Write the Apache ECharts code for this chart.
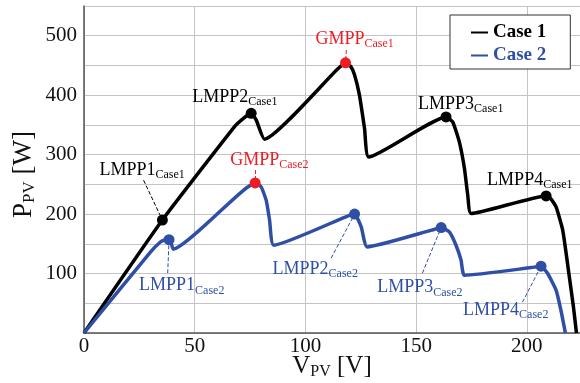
<!DOCTYPE html>
<html>
<head>
<meta charset="utf-8">
<script src="https://cdn.jsdelivr.net/npm/echarts@6/dist/echarts.min.js"></script>
<style>
html, body { margin: 0; background: #fff; }
#chart { width: 580px; height: 383px; }
</style>
</head>
<body>
<div id="chart"></div>
<script>
// P-V curves, voltage [V] and power [W]
var case1V = [0, 35.4, 68, 72, 75.5, 77.8, 81.5, 114, 118.1, 120.5, 122.2, 124.4, 126.7, 128.6, 163.5, 166.5, 169.5, 171.8, 173.3, 174.8, 208.7, 211, 213.2, 216.2, 219.2, 221, 222.4];
var case1P = [0, 190, 347, 361, 369.5, 358, 326, 442, 454.5, 448, 434, 400, 344, 296, 363.5, 355, 321.5, 277, 232, 201, 230.6, 225, 212, 173, 94, 45, 0];
var case2V = [0, 30, 34.5, 36.5, 38.4, 39.3, 40.3, 68, 73, 77.3, 80, 82.3, 83.8, 85.7, 118, 122.2, 125.2, 127.9, 157, 161.3, 165, 168, 170.3, 171.8, 202, 206.4, 209.4, 213.2, 215.4, 217.4];
var case2P = [0, 136, 153, 156.5, 157, 152, 141, 227, 243, 252.5, 245.8, 223, 190, 147.6, 195, 200, 178.5, 144.8, 173, 177.4, 170, 147.6, 122.4, 97, 110, 112.3, 100, 72, 38, 0];

// maximum power points
var mppName = ['LMPP1', 'LMPP2', 'GMPP', 'LMPP3', 'LMPP4', 'LMPP1', 'GMPP', 'LMPP2', 'LMPP3', 'LMPP4'];
var mppCase = ['Case1', 'Case1', 'Case1', 'Case1', 'Case1', 'Case2', 'Case2', 'Case2', 'Case2', 'Case2'];
var mppV = [35.4, 75.5, 118.1, 163.5, 208.7, 38.4, 77.3, 122.2, 161.3, 206.4];
var mppP = [190, 369.5, 454.5, 363.5, 230.6, 157, 252.5, 200, 177.4, 112.3];

var xTicks = [0, 50, 100, 150, 200];
var yTicks = [100, 200, 300, 400, 500];

// label placement (pixel offset from the point) and leader line start (in data units)
var labelOffset = [[-63, -49], [-59, -15], [-30, -23], [-28, -12], [-59, -15], [-30, 47], [-25, -22], [-82, 56], [-64, 61], [-78, 45]];
var leaderFrom = [[26.9, 257], null, [118.5, 476], null, null, [37.8, 100.5], [77.3, 274], [111.6, 125.8], [152.8, 100.5], [198, 51.7]];

var BLUE = '#2f4fa6';
var RED = '#ee1c25';
var FONT = 'Liberation Serif';

function zip(a, b) {
  return a.map(function (v, i) { return [v, b[i]]; });
}

var mppData = [];
var leaders = [];
for (var i = 0; i < mppV.length; i++) {
  var col = mppName[i] === 'GMPP' ? RED : (mppCase[i] === 'Case1' ? '#000' : BLUE);
  mppData.push({
    value: [mppV[i], mppP[i]],
    itemStyle: { color: col, opacity: 1 },
    label: {
      show: true,
      position: 'inside',
      align: 'left',
      verticalAlign: 'middle',
      offset: labelOffset[i],
      color: col,
      formatter: '{m|' + mppName[i] + '}{s|' + mppCase[i] + '}'
    }
  });
  if (leaderFrom[i]) {
    leaders.push([
      { coord: leaderFrom[i], lineStyle: { color: col, type: [4, 2], width: 1, opacity: 1 } },
      { coord: [mppV[i], mppP[i]] }
    ]);
  }
}

var chart = echarts.init(document.getElementById('chart'));
chart.setOption({
  animation: false,
  textStyle: { fontFamily: FONT },
  grid: { left: 84, right: 0, top: 6, bottom: 50, outerBoundsMode: 'none' },
  legend: {
    left: 450, top: 15, orient: 'vertical',
    padding: [8, 24, 4, 21], itemGap: 4, itemWidth: 17, itemHeight: 2,
    borderColor: '#333', borderWidth: 1, backgroundColor: '#fff',
    icon: 'rect',
    textStyle: { fontFamily: FONT, fontSize: 19, fontWeight: 'bold' },
    data: [
      { name: 'Case 1', textStyle: { color: '#000' } },
      { name: 'Case 2', textStyle: { color: BLUE } }
    ]
  },
  xAxis: {
    type: 'value', min: 0, max: 224, interval: 50,
    name: '{m|V}{s|PV}{m| [V]}', nameLocation: 'middle', nameGap: 21, nameMoveOverlap: false,
    nameTextStyle: {
      color: '#111',
      rich: {
        m: { fontFamily: FONT, fontSize: 25, verticalAlign: 'bottom', padding: [0, 0, 1, 0] },
        s: { fontFamily: FONT, fontSize: 16, verticalAlign: 'bottom' }
      }
    },
    axisLine: { lineStyle: { color: '#555', width: 1.5 } },
    axisTick: { show: false },
    axisLabel: {
      fontFamily: FONT, fontSize: 21, color: '#111', margin: 3, showMaxLabel: false,
      formatter: function (v) { return xTicks.indexOf(v) >= 0 ? String(v) : ''; }
    },
    splitLine: { lineStyle: { color: '#c4c4c4', width: 1 } }
  },
  yAxis: {
    type: 'value', min: 0, max: 550, interval: 50,
    name: '{m|P}{s|PV}{e| [W]}', nameLocation: 'middle', nameGap: 46, nameRotate: 90, nameMoveOverlap: false,
    nameTextStyle: {
      color: '#111',
      rich: {
        m: { fontFamily: FONT, fontSize: 27, verticalAlign: 'bottom', padding: [0, 0, 1, 0] },
        e: { fontFamily: FONT, fontSize: 27, verticalAlign: 'bottom', padding: [0, 10, 1, 0] },
        s: { fontFamily: FONT, fontSize: 17, verticalAlign: 'bottom' }
      }
    },
    axisLine: { show: true, lineStyle: { color: '#555', width: 1.5 } },
    axisTick: { show: false },
    axisLabel: {
      fontFamily: FONT, fontSize: 21, color: '#111', margin: 7,
      formatter: function (v) { return yTicks.indexOf(v) >= 0 ? String(v) : ''; }
    },
    splitLine: { lineStyle: { color: '#c4c4c4', width: 1 } }
  },
  series: [
    {
      name: 'Case 1', type: 'line', data: zip(case1V, case1P),
      showSymbol: false, itemStyle: { color: '#000' }, smooth: 0.15,
      lineStyle: { color: '#000', width: 3.5, join: 'round' }, z: 3
    },
    {
      name: 'Case 2', type: 'line', data: zip(case2V, case2P),
      showSymbol: false, itemStyle: { color: BLUE }, smooth: 0.15,
      lineStyle: { color: BLUE, width: 3.5, join: 'round' }, z: 3
    },
    {
      name: 'MPP', type: 'scatter', data: mppData,
      symbolSize: 11, z: 5,
      label: {
        fontFamily: FONT,
        rich: {
          m: { fontFamily: FONT, fontSize: 18, verticalAlign: 'bottom', padding: [0, 0, 2, 0] },
          s: { fontFamily: FONT, fontSize: 12, verticalAlign: 'bottom' }
        }
      },
      markLine: {
        silent: true, symbol: 'none', animation: false,
        label: { show: false },
        data: leaders
      }
    }
  ]
});
</script>
</body>
</html>
